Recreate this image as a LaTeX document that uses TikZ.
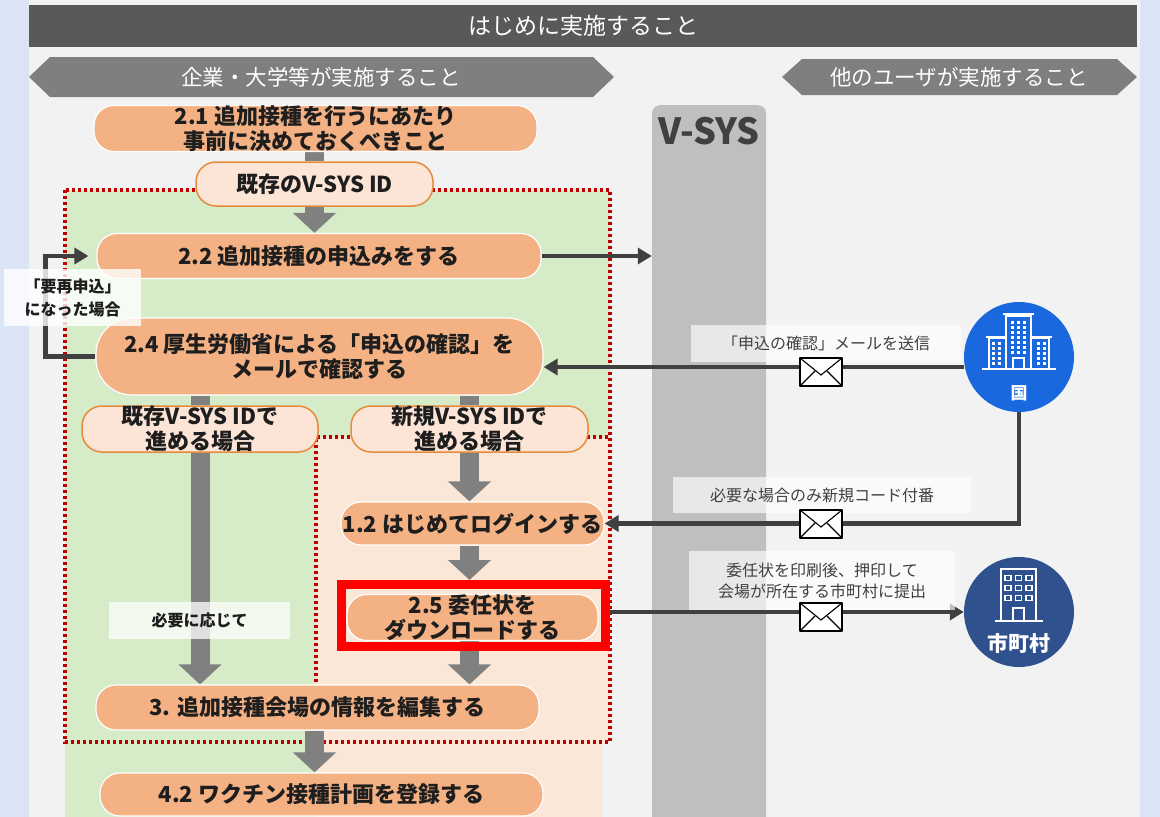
\documentclass[tikz,border=0pt]{standalone}
\usepackage{fontspec}
\setmainfont{Noto Sans CJK JP}
\usetikzlibrary{arrows.meta}
\definecolor{bgblue}{RGB}{218,228,244}
\definecolor{panel}{RGB}{242,242,242}
\definecolor{hdr}{RGB}{89,89,89}
\definecolor{banner}{RGB}{127,127,127}
\definecolor{vsysc}{RGB}{191,191,191}
\definecolor{greenr}{RGB}{214,235,199}
\definecolor{peachr}{RGB}{251,231,216}
\definecolor{pillc}{RGB}{244,177,131}
\definecolor{lpill}{RGB}{252,229,214}
\definecolor{lpillb}{RGB}{228,140,60}
\definecolor{dotred}{RGB}{192,0,0}
\definecolor{arrg}{RGB}{128,128,128}
\definecolor{conc}{RGB}{64,64,64}
\definecolor{txt}{RGB}{30,30,30}
\definecolor{guoc}{RGB}{26,104,222}
\definecolor{shic}{RGB}{47,82,143}
\definecolor{lbltxt}{RGB}{64,64,64}
\pgfdeclarelayer{bg}
\pgfdeclarelayer{back}
\pgfsetlayers{bg,back,main}
\tikzset{
  pill/.style={fill=pillc, draw=white, line width=1.2pt, rounded corners=20pt, inner sep=0pt,
    align=center, text=txt, font=\bfseries\fontsize{22}{25}\selectfont},
  lpillst/.style={pill, fill=lpill, draw=lpillb, line width=1.5pt},
  lbl/.style={fill=white, fill opacity=0.65, text opacity=1, inner sep=0pt, align=center,
    text=lbltxt, font=\fontsize{16}{21}\selectfont},
  bigarr/.style={draw=arrg, line width=19pt, -{Triangle[length=20pt,width=42pt]}},
  shaft/.style={draw=arrg, line width=19pt},
  conn/.style={draw=conc, line width=4.5pt, -{Triangle[length=14pt,width=16pt]}},
  dotl/.style={draw=dotred, line width=3.5pt, dash pattern=on 3pt off 3pt},
  icon/.style={draw=white, line width=1.8pt},
  envel/.pic={
    \draw[fill=white, draw=black, line width=1.1pt, line join=round] (-21,-14) rectangle (21,14);
    \draw[black, line width=1.1pt] (-21,-14) -- (0,3) -- (21,-14);
    \draw[black, line width=1.1pt] (-21,14) -- (-6,-1) (21,14) -- (6,-1);
  }
}
\begin{document}
\begin{tikzpicture}[x=1pt,y=-1pt]
\useasboundingbox (0,0) rectangle (1160,817);
\begin{pgfonlayer}{bg}
  \fill[bgblue] (0,0) rectangle (1160,817);
  \fill[panel] (29,0) rectangle (1140,817);
  % header
  \fill[hdr] (29,5) rectangle (1137,47);
  \node[text=white, font=\fontsize{23}{25}\selectfont] (hdrt) at (583,26) {はじめに実施すること};
  % banners
  \fill[banner] (29,77) -- (50,57) -- (593,57) -- (614,77) -- (593,97) -- (50,97) -- cycle;
  \node[text=white, font=\fontsize{21.5}{24}\selectfont] (banL) at (321,77) {企業・大学等が実施すること};
  \fill[banner] (782,77) -- (802,59) -- (1117,59) -- (1137,77) -- (1117,95) -- (802,95) -- cycle;
  \node[text=white, font=\fontsize{21.5}{24}\selectfont] (banR) at (959,77) {他のユーザが実施すること};
  % V-SYS column
  \node[fill=vsysc, rounded corners=8pt, minimum width=114pt, minimum height=740pt, inner sep=0pt, anchor=north] (vcol) at (709,105) {};
  \node[text=conc, font=\bfseries\fontsize{36}{40}\selectfont] (vsys) at (709,131) {V-SYS};
  % regions
  \fill[greenr] (65,190) rectangle (610,437);
  \fill[greenr] (65,437) rectangle (316,817);
  \fill[peachr] (316,437) rectangle (610,742);
  \fill[peachr] (316,742) rectangle (602,817);
  \draw[dotl] (65,190) rectangle (610,742);
  \draw[dotl] (316,742) -- (316,437) -- (610,437);
\end{pgfonlayer}

% main nodes
\node[pill, minimum width=443pt, minimum height=43pt] (n21) at (315.5,128.5) {2.1 追加接種を行うにあたり\\事前に決めておくべきこと};
\node[lpillst, minimum width=237pt, minimum height=44pt] (idbox) at (314.5,184) {既存のV-SYS ID};
\node[pill, minimum width=444pt, minimum height=45pt] (n22) at (319,256) {2.2 追加接種の申込みをする};
\node[pill, rounded corners=36pt, minimum width=447pt, minimum height=77pt] (n24) at (319.5,356.5) {2.4 厚生労働省による「申込の確認」を\\メールで確認する};
\node[lpillst, minimum width=236pt, minimum height=46pt] (exist) at (200,429) {既存V-SYS IDで\\進める場合};
\node[lpillst, minimum width=237pt, minimum height=46pt] (newid) at (469.5,429) {新規V-SYS IDで\\進める場合};
\node[pill, minimum width=263pt, minimum height=43pt] (n12) at (472.5,523.5) {1.2 はじめてログインする};
\node[pill, minimum width=251pt, minimum height=45pt] (n25) at (472.5,617.5) {2.5 委任状を\\ダウンロードする};
\node[draw=red, line width=9pt, minimum width=264pt, minimum height=62pt, inner sep=0pt] (frame25) at (473.5,615.5) {};
\node[pill, minimum width=443pt, minimum height=45pt] (n3) at (317.5,707.5) {3. 追加接種会場の情報を編集する};
\node[pill, minimum width=443pt, minimum height=43pt] (n42) at (321.5,794.5) {4.2 ワクチン接種計画を登録する};

% circles
\node[circle, fill=guoc, minimum size=110pt, inner sep=0pt] (guo) at (1019,357) {};
\node[circle, fill=shic, minimum size=110pt, inner sep=0pt] (shi) at (1019,612) {};
\node[text=white, font=\bfseries\fontsize{17}{18}\selectfont] (guot) at (1019,393) {国};
\node[text=white, font=\bfseries\fontsize{21}{22}\selectfont] (shit) at (1019,643) {市町村};

% icon: government building
\draw[icon] (1006,368) -- (1006,316) -- (1031,316) -- (1031,368);
\draw[icon] (1003,314) -- (1034,314);
\draw[icon] (1006,338) -- (989,338) -- (989,368);
\draw[icon] (1031,338) -- (1049,338) -- (1049,368);
\draw[icon] (986,337) -- (1006,337);
\draw[icon] (1031,337) -- (1052,337);
\draw[icon] (982,369) -- (1056,369);
\draw[icon] (1013,369) -- (1013,358) -- (1024,358) -- (1024,369);
\foreach \r in {0,...,6} {
  \foreach \c in {0,1,2} {
    \fill[white] (1011+\c*6,321+\r*5) rectangle (1014+\c*6,323.5+\r*5);
  }
}
\foreach \r in {0,...,4} {
  \fill[white] (992,342+\r*5) rectangle (995,344.5+\r*5);
  \fill[white] (998,342+\r*5) rectangle (1001,344.5+\r*5);
  \fill[white] (1037,342+\r*5) rectangle (1040,344.5+\r*5);
  \fill[white] (1043,342+\r*5) rectangle (1046,344.5+\r*5);
}
% icon: municipal building
\draw[icon, line width=2.5pt] (1001,620) -- (1001,569) -- (1036,569) -- (1036,620);
\draw[icon, line width=2.5pt] (995,621) -- (1043,621);
\draw[icon, line width=2pt] (1013,620) -- (1013,608) -- (1024,608) -- (1024,620);
\foreach \xx in {1008,1018.5,1029} {
  \foreach \yy in {578,588,598} {
    \draw[icon, line width=1.3pt] (\xx-3,\yy-2.5) rectangle (\xx+3,\yy+2.5);
  }
}

% arrows and connectors
\begin{pgfonlayer}{back}
  \draw[shaft] (n21.south -| idbox.north) -- (idbox.north);
  \draw[bigarr] (idbox.south) -- (idbox.south |- n22.north);
  \draw[shaft] (exist.north |- n24.south) -- (exist.north);
  \draw[shaft] (newid.north |- n24.south) -- (newid.north);
  \draw[bigarr] (exist.south) -- (exist.south |- n3.north);
  \draw[bigarr] (newid.south) -- (newid.south |- n12.north);
  \draw[bigarr] (newid.south |- n12.south) -- (newid.south |- frame25.north);
  \draw[bigarr] (newid.south |- n25.south) -- (newid.south |- n3.north);
  \draw[bigarr] (idbox.south |- n3.south) -- (idbox.south |- n42.north);
  \draw[conn] (n22.east) -- (n22.east -| vcol.west);
  \draw[conn, shorten >=8pt] (n24.west) -- ++(-50,0) |- (n22.west);
  \draw[conn] ([yshift=-10pt]guo.west) -- ([yshift=-10pt]guo.west -| n24.east);
  \draw[conn] (guo.south) |- (n12.east);
  \draw[conn] (frame25.east |- shi.west) -- (shi.west);
\end{pgfonlayer}

% labels
\node[lbl, minimum width=270pt, minimum height=37pt] (l1) at (826,343.5) {「申込の確認」メールを送信};
\node[lbl, minimum width=298pt, minimum height=36pt] (l2) at (822,495) {必要な場合のみ新規コード付番};
\node[lbl, minimum width=266pt, minimum height=59pt] (l3) at (822,580.5) {委任状を印刷後、押印して\\会場が所在する市町村に提出};
\node[lbl, fill opacity=0.75, text=txt, font=\bfseries\fontsize{16}{21}\selectfont, minimum width=181pt, minimum height=37pt] (l4) at (199.5,620.5) {必要に応じて};
\node[lbl, fill opacity=0.8, text=txt, font=\bfseries\fontsize{16}{23}\selectfont, minimum width=137pt, minimum height=57pt] (l5) at (72.5,297.5) {「要再申込」\\になった場合};

% envelopes
\pic at (821,372) {envel};
\pic at (821,524) {envel};
\pic at (821,617) {envel};
\end{tikzpicture}
\end{document}
